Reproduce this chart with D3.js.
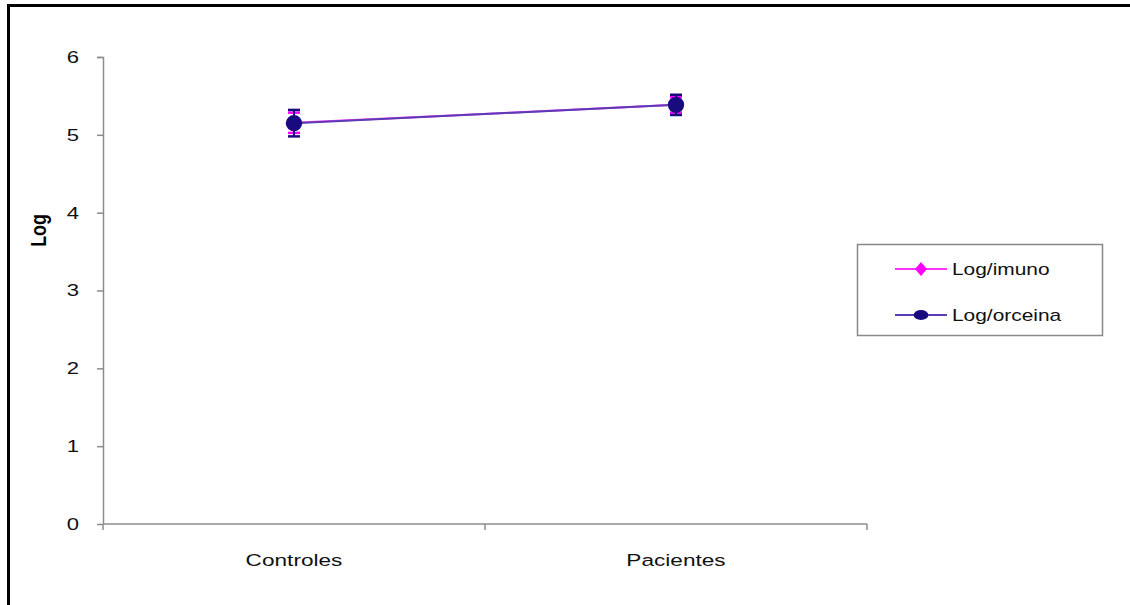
<!DOCTYPE html>
<html>
<head>
<meta charset="utf-8">
<script src="https://cdn.jsdelivr.net/npm/d3@7"></script>
<style>
  html, body { margin: 0; padding: 0; background: #fff; }
  svg { display: block; }
  text { font-family: "Liberation Sans", Arial, sans-serif; }
</style>
</head>
<body>
<svg id="chart" width="1130" height="605"></svg>
<script>
// Groups on the x axis
const categories = ["Controles", "Pacientes"];
// Mean log values and error half-widths per series
const imunoValues = [5.155, 5.385];
const imunoErrors = [0.13, 0.10];
const orceinaValues = [5.15, 5.385];
const orceinaErrors = [0.17, 0.13];
const yTicks = [0, 1, 2, 3, 4, 5, 6];
const seriesNames = ["Log/imuno", "Log/orceina"];

const svg = d3.select("#chart");

// Outer frame (top and left edges)
svg.append("path")
  .attr("d", "M8.5,605 V5.5 H1130")
  .attr("fill", "none")
  .attr("stroke", "#000")
  .attr("stroke-width", 3);

const plot = { left: 103, right: 867, top: 57, bottom: 524 };

const x = d3.scaleBand().domain(categories).range([plot.left, plot.right]);
const y = d3.scaleLinear().domain([0, 6]).range([plot.bottom, plot.top]);
const cx = c => x(c) + x.bandwidth() / 2;

const axisColor = "#8c8c8c";
const wide = 1.3; // horizontal widening of the label glyphs

// Y axis
const yAxis = svg.append("g")
  .attr("transform", `translate(${plot.left},0)`)
  .call(d3.axisLeft(y).tickValues(yTicks).tickSize(6).tickFormat(d3.format("d")));
yAxis.select(".domain").attr("stroke", axisColor).attr("stroke-width", 1.5)
  .attr("d", `M-6,${plot.top}.5H0.5V${plot.bottom}`);
yAxis.selectAll(".tick line").attr("stroke", axisColor).attr("stroke-width", 1.5);
yAxis.selectAll(".tick text")
  .attr("x", 0)
  .attr("transform", `translate(-24,0) scale(${wide},1)`)
  .attr("font-size", 17).attr("fill", "#111");

// X axis with ticks on category boundaries
const xAxisG = svg.append("g").attr("transform", `translate(0,${plot.bottom})`);
xAxisG.append("line")
  .attr("x1", plot.left).attr("x2", plot.right)
  .attr("stroke", axisColor).attr("stroke-width", 1.5);
const bounds = [plot.left, ...categories.map(c => x(c) + x.bandwidth())];
xAxisG.selectAll(".bt").data(bounds).join("line")
  .attr("x1", d => d).attr("x2", d => d)
  .attr("y1", 0).attr("y2", 6)
  .attr("stroke", axisColor).attr("stroke-width", 1.5);
xAxisG.selectAll(".cat").data(categories).join("text")
  .attr("transform", d => `translate(${cx(d)},42) scale(1.33,1)`)
  .attr("text-anchor", "middle")
  .attr("font-size", 17).attr("fill", "#111")
  .text(d => d);

// Y axis title
svg.append("text")
  .attr("transform", `translate(46,${(plot.top + plot.bottom) / 2 - 60}) rotate(-90) scale(1.05,1.3)`)
  .attr("text-anchor", "middle")
  .attr("font-size", 17).attr("font-weight", "bold").attr("fill", "#000")
  .text("Log");

const series = [
  { name: seriesNames[0], values: imunoValues, errors: imunoErrors, line: "#ff33ff", mark: "#ff00ff", shape: "diamond" },
  { name: seriesNames[1], values: orceinaValues, errors: orceinaErrors, line: "#5a3cb4", mark: "#1a0a80", shape: "circle" }
];

const lineGen = d3.line().x(d => cx(d.c)).y(d => y(d.v));

series.forEach(s => {
  const pts = categories.map((c, i) => ({ c, v: s.values[i], e: s.errors[i] }));
  const g = svg.append("g");
  g.append("path").datum(pts)
    .attr("d", lineGen).attr("fill", "none")
    .attr("stroke", s.line).attr("stroke-width", 2);
  // Error bars
  pts.forEach(p => {
    const px = cx(p.c), y0 = y(p.v - p.e), y1 = y(p.v + p.e);
    g.append("line").attr("x1", px).attr("x2", px).attr("y1", y0).attr("y2", y1)
      .attr("stroke", s.mark).attr("stroke-width", 2);
    [y0, y1].forEach(yy => g.append("line")
      .attr("x1", px - 6).attr("x2", px + 6).attr("y1", yy).attr("y2", yy)
      .attr("stroke", s.mark).attr("stroke-width", 2.5));
  });
  const sym = s.shape === "circle" ? d3.symbolCircle : d3.symbolDiamond;
  g.selectAll(".m").data(pts).join("path")
    .attr("transform", p => `translate(${cx(p.c)},${y(p.v)})`)
    .attr("d", d3.symbol().type(sym).size(s.shape === "circle" ? 210 : 90))
    .attr("fill", s.mark);
});

// Legend
const lg = svg.append("g").attr("transform", "translate(857,244)");
lg.append("rect").attr("x", 0.5).attr("y", 0.5).attr("width", 245).attr("height", 91)
  .attr("fill", "#fff").attr("stroke", "#888").attr("stroke-width", 1.5);
series.forEach((s, i) => {
  const yy = 25 + i * 46;
  lg.append("line").attr("x1", 38).attr("x2", 90).attr("y1", yy).attr("y2", yy)
    .attr("stroke", s.line).attr("stroke-width", 2);
  const sym = s.shape === "circle" ? d3.symbolCircle : d3.symbolDiamond;
  lg.append("path").attr("transform", `translate(64,${yy}) scale(1.25,0.85)`)
    .attr("d", d3.symbol().type(sym).size(s.shape === "circle" ? 110 : 80))
    .attr("fill", s.mark);
  lg.append("text").attr("transform", `translate(95,${yy + 6}) scale(1.23,1)`)
    .attr("font-size", 17).attr("fill", "#111").text(s.name);
});
</script>
</body>
</html>
